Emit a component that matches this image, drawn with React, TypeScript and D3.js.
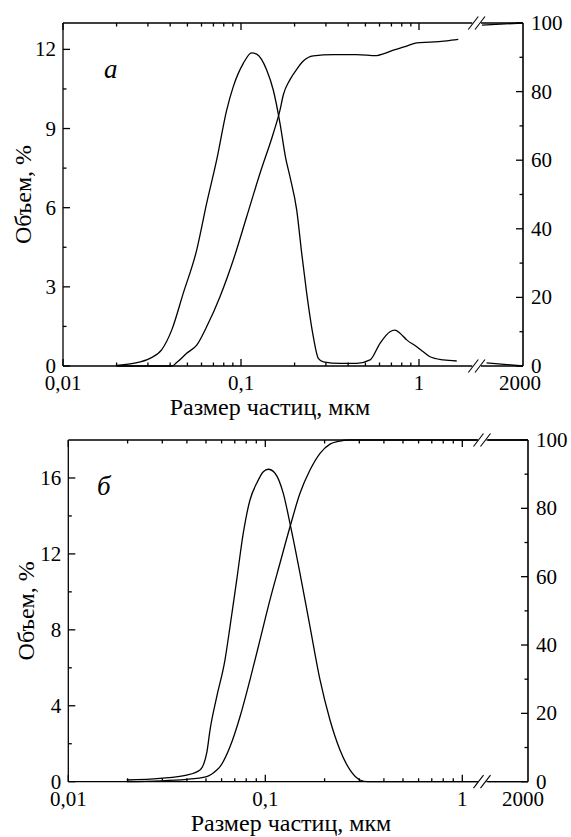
import React from 'react';
import * as d3 from 'd3';

const width = 571;
const height = 837;
const font = "'Liberation Serif', 'DejaVu Serif', 'Times New Roman', Times, serif";

// panel а: volume % (left) and cumulative % (right) vs particle size, µm
const distA: [number, number][] = [
  [0.020, 0.02], [0.0248, 0.1], [0.0308, 0.29], [0.0358, 0.61], [0.0408, 1.36],
  [0.0474, 2.76], [0.0564, 4.40], [0.0642, 6.18], [0.0730, 7.81], [0.0831, 9.70],
  [0.0905, 10.59], [0.1030, 11.47], [0.1148, 11.87], [0.1225, 11.82], [0.1394, 11.22],
  [0.1518, 10.46], [0.1656, 9.20], [0.1780, 7.9], [0.1885, 7.17], [0.2056, 5.91],
  [0.2193, 4.27], [0.2339, 2.76], [0.2548, 1.11], [0.2718, 0.29], [0.290, 0.16],
  [0.360, 0.10], [0.447, 0.10], [0.531, 0.23], [0.604, 0.86], [0.687, 1.30],
  [0.733, 1.36], [0.782, 1.24], [0.853, 0.99], [0.971, 0.73], [1.057, 0.54],
  [1.153, 0.35], [1.370, 0.23], [1.629, 0.19],
];
const cumA: [number, number][] = [
  [0.020, 0], [0.041, 0], [0.0435, 1.0], [0.0495, 3.7], [0.0564, 6.1], [0.0642, 11.5],
  [0.0762, 20.2], [0.0905, 30.9], [0.1076, 43.5], [0.1279, 56.2], [0.1518, 67.8],
  [0.1656, 74.6], [0.1728, 79], [0.1885, 83.5], [0.2056, 86.5], [0.2239, 88.9],
  [0.2548, 90.4], [0.330, 90.8], [0.447, 90.8], [0.578, 90.5], [0.630, 91.0],
  [0.717, 92.1], [0.834, 93.1], [0.971, 94.2], [1.153, 94.4], [1.431, 94.8], [1.662, 95.2],
];
const distATail: [number, number][] = [[1080, 0.12], [2000, 0]];
const cumATail: [number, number][] = [[1000, 99.4], [2000, 100]];

// panel б
const distB: [number, number][] = [
  [0.0198, 0.09], [0.0292, 0.18], [0.0399, 0.35], [0.0466, 0.62], [0.0504, 1.50],
  [0.0524, 2.72], [0.0567, 4.48], [0.0624, 6.41], [0.0662, 8.17], [0.0716, 10.63],
  [0.0773, 13.09], [0.0836, 14.84], [0.0904, 15.72], [0.0977, 16.33], [0.1036, 16.46],
  [0.1120, 16.25], [0.1234, 15.19], [0.1335, 13.6], [0.150, 10.98], [0.1686, 8.17],
  [0.1896, 5.36], [0.2130, 3.25], [0.2394, 1.67], [0.269, 0.62], [0.3025, 0.09],
  [0.33, 0], [1.2, 0],
];
const cumB: [number, number][] = [
  [0.0198, 0], [0.0399, 0.7], [0.0504, 1.5], [0.0567, 3.4], [0.0589, 4.4], [0.0662, 10.2],
  [0.0744, 19.0], [0.0836, 29.8], [0.0940, 41.5], [0.1056, 53.2], [0.1188, 64],
  [0.1335, 74.6], [0.150, 84.4], [0.1686, 91.2], [0.1896, 96.1], [0.2130, 98.8],
  [0.2347, 99.6], [0.27, 100], [1.2, 100],
];
const distBTail: [number, number][] = [[1000, 0], [2000, 0]];
const cumBTail: [number, number][] = [[1000, 100], [2000, 100]];

// ticks
const leftTicksA = [0, 3, 6, 9, 12];
const leftMinorA = [1.5, 4.5, 7.5, 10.5];
const leftTicksB = [0, 4, 8, 12, 16];
const leftMinorB = [2, 6, 10, 14];
const rightTicks = [0, 20, 40, 60, 80, 100];
const rightMinor = [10, 30, 50, 70, 90];
const xMajor = [0.01, 0.1, 1];
const xMajorLabels = ['0,01', '0,1', '1'];
const xMinor = [0.02, 0.03, 0.04, 0.05, 0.06, 0.07, 0.08, 0.09, 0.2, 0.3, 0.4, 0.5, 0.6, 0.7, 0.8, 0.9];
const tailLabel = '2000';
const xTitle = 'Размер частиц, мкм';
const yTitle = 'Объем, %';

const panels = [
  {
    label: 'а', dist: distA, cum: cumA, distTail: distATail, cumTail: cumATail,
    yMax: 13, leftTicks: leftTicksA, leftMinor: leftMinorA,
    left: 63, right: 523, top: 23, bottom: 366, x1: 419,
    breakA: 473.3, breakB: 480, tailStart: 482, tailLabelDx: -3,
    xTitleX: 270, yTitleX: 31, labelX: 104, labelY: 78,
  },
  {
    label: 'б', dist: distB, cum: cumB, distTail: distBTail, cumTail: cumBTail,
    yMax: 18, leftTicks: leftTicksB, leftMinor: leftMinorB,
    left: 68.3, right: 528, top: 440, bottom: 781.7, x1: 462.3,
    breakA: 478.5, breakB: 485.5, tailStart: 488, tailLabelDx: -5,
    xTitleX: 291, yTitleX: 34, labelX: 97, labelY: 495,
  },
];

const Panel = ({ p }: { p: typeof panels[number] }) => {
  const x = d3.scaleLog().domain([0.01, 1]).range([p.left, p.x1]);
  const xt = d3.scaleLog().domain([1000, 2000]).range([p.tailStart, p.right]);
  const yL = d3.scaleLinear().domain([0, p.yMax]).range([p.bottom, p.top]);
  const yR = d3.scaleLinear().domain([0, 100]).range([p.bottom, p.top]);

  const lineL = d3.line<[number, number]>().x(d => x(d[0])).y(d => yL(d[1])).curve(d3.curveMonotoneX);
  const lineR = d3.line<[number, number]>().x(d => x(d[0])).y(d => yR(d[1])).curve(d3.curveMonotoneX);
  const tailL = d3.line<[number, number]>().x(d => xt(d[0])).y(d => yL(d[1]));
  const tailR = d3.line<[number, number]>().x(d => xt(d[0])).y(d => yR(d[1]));

  const gapL = p.breakA - 1;
  const gapR = p.breakB + 1;
  const slash = (cx: number, cy: number) => `M${cx - 5},${cy + 6.5}L${cx + 5},${cy - 6.5}`;
  const stroke = { stroke: '#000', strokeWidth: 1.3, fill: 'none' };
  const txt = { fontSize: 21, fontFamily: font, fill: '#000' };
  const title = { ...txt, fontSize: 24 };

  return (
    <g>
      {/* frame */}
      <path d={`M${p.left},${p.top}V${p.bottom}`} {...stroke} />
      <path d={`M${p.right},${p.top}V${p.bottom}`} {...stroke} strokeWidth={1.6} />
      <path d={`M${p.left},${p.top}H${gapL}M${gapR},${p.top}H${p.right}`} {...stroke} />
      <path d={`M${p.left},${p.bottom}H${gapL}M${gapR},${p.bottom}H${p.right}`} {...stroke} />
      {[p.breakA, p.breakB].map(cx => (
        <g key={cx}>
          <path d={slash(cx, p.top)} {...stroke} strokeWidth={1.1} />
          <path d={slash(cx, p.bottom)} {...stroke} strokeWidth={1.1} />
        </g>
      ))}

      {/* x ticks */}
      {xMajor.map((v, i) => (
        <g key={'xm' + v}>
          <path d={`M${x(v)},${p.bottom}v-7M${x(v)},${p.top}v7`} {...stroke} />
          <text x={x(v)} y={p.bottom + 24} textAnchor="middle" style={txt}>{xMajorLabels[i]}</text>
        </g>
      ))}
      {xMinor.map(v => (
        <path key={'xn' + v} d={`M${x(v)},${p.bottom}v-3.5M${x(v)},${p.top}v3.5`} {...stroke} />
      ))}
      <text x={p.right + p.tailLabelDx} y={p.bottom + 24} textAnchor="middle" style={txt}>{tailLabel}</text>

      {/* left axis */}
      {p.leftTicks.map(v => (
        <g key={'yl' + v}>
          <path d={`M${p.left},${yL(v)}h7`} {...stroke} />
          <text x={p.left - 7} y={yL(v) + 7} textAnchor="end" style={txt}>{v}</text>
        </g>
      ))}
      {p.leftMinor.map(v => (
        <path key={'yn' + v} d={`M${p.left},${yL(v)}h3.5`} {...stroke} />
      ))}

      {/* right axis */}
      {rightTicks.map(v => (
        <g key={'yr' + v}>
          <path d={`M${p.right},${yR(v)}h-7`} {...stroke} />
          <text x={p.right + 8} y={yR(v) + 7} textAnchor="start" style={txt}>{v}</text>
        </g>
      ))}
      {rightMinor.map(v => (
        <path key={'rn' + v} d={`M${p.right},${yR(v)}h-3.5`} {...stroke} />
      ))}

      {/* curves */}
      <path d={lineL(p.dist) || ''} {...stroke} />
      <path d={lineR(p.cum) || ''} {...stroke} />
      <path d={tailL(p.distTail) || ''} {...stroke} />
      <path d={tailR(p.cumTail) || ''} {...stroke} />

      {/* titles */}
      <text x={p.xTitleX} y={p.bottom + 49} textAnchor="middle" style={title}>{xTitle}</text>
      <text transform={`translate(${p.yTitleX},${(p.top + p.bottom) / 2}) rotate(-90)`} textAnchor="middle"
        style={title}>{yTitle}</text>
      <text x={p.labelX} y={p.labelY} style={{ ...txt, fontSize: 27, fontStyle: 'italic' }}>{p.label}</text>
    </g>
  );
};

export default function App() {
  return (
    <svg width={width} height={height} style={{ position: 'absolute', left: 0, top: 0, background: '#fff' }}>
      <rect width={width} height={height} fill="#fff" />
      {panels.map(p => <Panel key={p.label} p={p} />)}
    </svg>
  );
}
